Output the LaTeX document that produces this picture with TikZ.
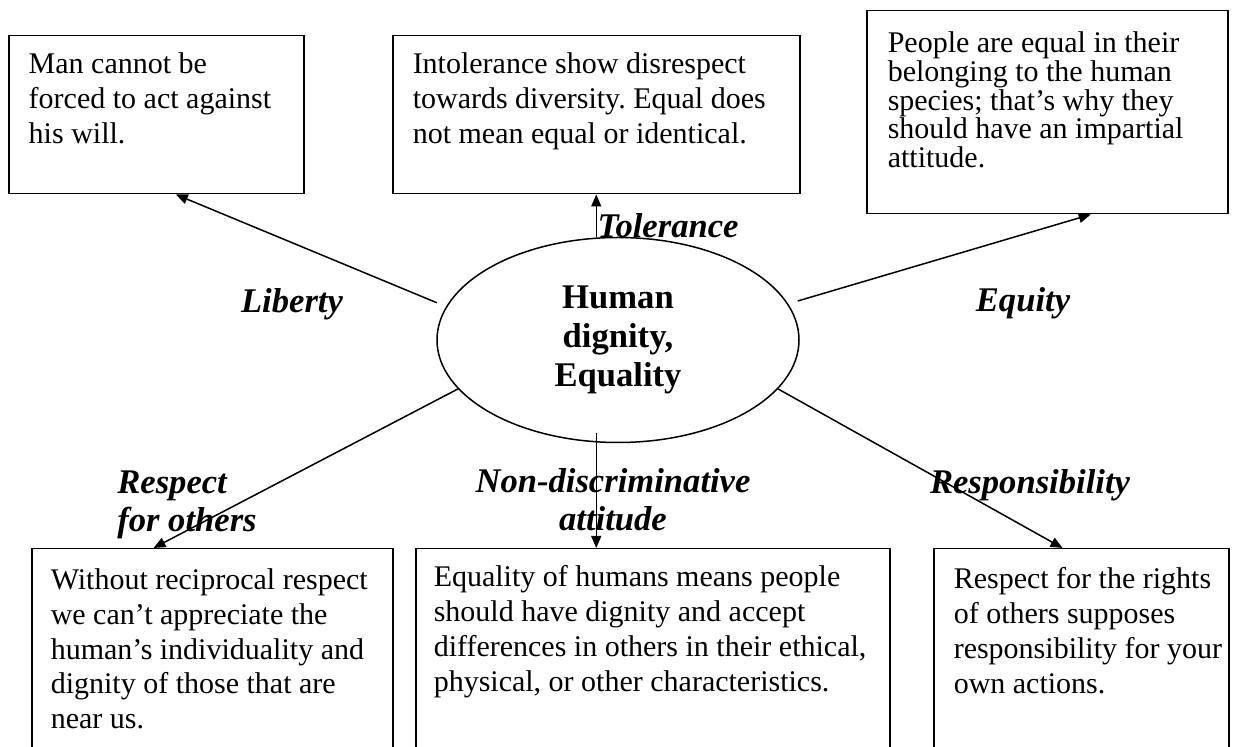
\documentclass[tikz,border=0pt]{standalone}
\usepackage{fontspec}
\setmainfont{Liberation Serif}
\usetikzlibrary{positioning,calc,arrows.meta,shapes.geometric}
\frenchspacing

\begin{document}
\begin{tikzpicture}[x=0.5pt, y=-0.5pt, line width=0.75pt,
  frame/.style={draw, rectangle, anchor=north west, inner sep=0pt},
  body/.style={align=left, inner sep=0pt, font=\fontsize{15}{17.4}\selectfont},
  tag/.style={inner sep=0pt, font=\fontsize{17.3}{19}\selectfont\bfseries\itshape},
  hub/.style={draw, ellipse, minimum width=181pt, minimum height=102.5pt, inner sep=0pt, align=center, font=\fontsize{17.3}{19.5}\selectfont\bfseries},
  link/.style={-{Triangle[length=6pt, width=5pt]}}]
  \useasboundingbox (0,0) rectangle (1243,747);
  \clip (0,0) rectangle (1243,747);

  \node[hub] (dignity) at (618,340) {Human\\dignity,\\Equality};

  \node[frame, minimum width=147.5pt, minimum height=79pt] (liberty) at (8,35) {};
  \node[frame, minimum width=203.5pt, minimum height=79pt] (tolerance) at (392,35) {};
  \node[frame, minimum width=180.5pt, minimum height=101.5pt] (equity) at (866,10) {};
  \node[frame, minimum width=180.5pt, minimum height=120pt] (respect) at (31,548) {};
  \node[frame, minimum width=237pt, minimum height=120pt] (nondiscr) at (415,548) {};
  \node[frame, minimum width=147.5pt, minimum height=120pt] (responsibility) at (933,548) {};

  \node[body, below right=8.5pt and 10pt of liberty.north west] (liberty-txt) {Man cannot be\\forced to act against\\his will.};
  \node[body, below right=8.5pt and 10pt of tolerance.north west] (tolerance-txt) {Intolerance show disrespect\\towards diversity. Equal does\\not mean equal or identical.};
  \node[body, font=\fontsize{15}{14.4}\selectfont, below right=10.5pt and 10.5pt of equity.north west] (equity-txt) {People are equal in their\\belonging to the human\\species; that’s why they\\should have an impartial\\attitude.};
  \node[body, below right=10pt and 9.5pt of respect.north west] (respect-txt) {Without reciprocal respect\\we can’t appreciate the\\human’s individuality and\\dignity of those that are\\near us.};
  \node[body, below right=8.5pt and 9pt of nondiscr.north west] (nondiscr-txt) {Equality of humans means people\\should have dignity and accept\\differences in others in their ethical,\\physical, or other characteristics.};
  \node[body, below right=9.5pt and 10pt of responsibility.north west] (responsibility-txt) {Respect for the rights\\of others supposes\\responsibility for your\\own actions.};

  \node[tag] (liberty-tag) at (292,304) {Liberty};
  \node[tag] (tolerance-tag) at (668,226) {Tolerance};
  \node[tag] (equity-tag) at (1023,303) {Equity};
  \node[tag, align=left] (respect-tag) at (187,505) {Respect\\for others};
  \node[tag, align=center] (nondiscr-tag) at (613,500) {Non-discriminative\\attitude};
  \node[tag] (responsibility-tag) at (1030,485) {Responsibility};

  \draw[link, shorten <=5pt] (dignity.169) -- ($(liberty.south west)!0.566!(liberty.south east)$);
  \draw[link] (tolerance.south |- dignity.north) -- (tolerance.south);
  \draw[link, shorten <=5pt] (dignity.12) -- ($(equity.south west)!0.62!(equity.south east)$);
  \draw[link] (dignity.197) -- ($(respect.north west)!0.338!(respect.north east)$);
  \draw[link, shorten <=-5pt] (tolerance.south |- dignity.south) -- (tolerance.south |- nondiscr.north);
  \draw[link] (dignity.343) -- ($(responsibility.north west)!0.437!(responsibility.north east)$);
\end{tikzpicture}
\end{document}
